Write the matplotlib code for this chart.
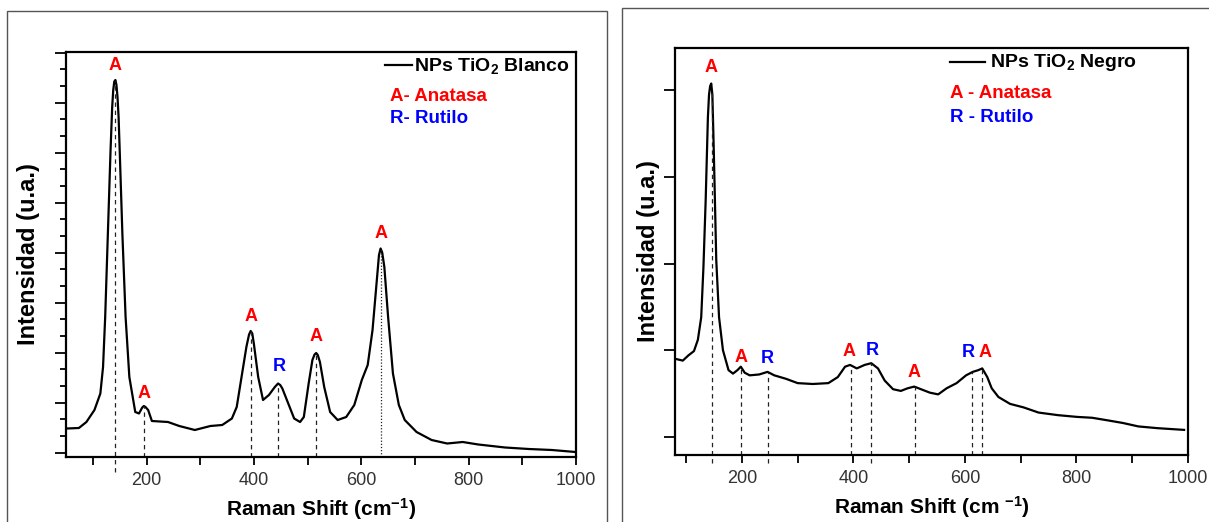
import matplotlib
matplotlib.use("Agg")
import matplotlib.pyplot as plt
import numpy as np
from matplotlib.patches import Rectangle
from matplotlib.lines import Line2D
from matplotlib.ticker import MultipleLocator, FixedLocator

plt.rcParams['font.family'] = ['Liberation Sans', 'DejaVu Sans']
plt.rcParams['mathtext.fontset'] = 'custom'
plt.rcParams['mathtext.rm'] = 'Liberation Sans'
plt.rcParams['mathtext.bf'] = 'Liberation Sans:bold'
plt.rcParams['mathtext.it'] = 'Liberation Sans:italic'

# ---------------- data: white TiO2 (Blanco) ----------------
blanco_shift = [52, 74, 88, 103, 114, 119, 123, 128, 133, 136, 138, 140, 142, 144, 146, 148, 150,
                155, 161, 168, 179, 186, 192, 195, 198, 203, 210, 240, 261, 290, 319, 341, 359,
                368, 377, 386, 391, 394, 397, 400, 408, 417, 428, 439, 445, 449, 453, 464,
                475, 486, 493, 502, 509, 513, 516, 519, 523, 531, 542, 556, 572, 587, 601,
                612, 621, 629, 633, 636, 639, 643, 650, 659, 670, 681, 703, 731, 760, 789,
                818, 868, 912, 955, 999]
blanco_int = [0.48, 0.49, 0.61, 0.85, 1.18, 1.71, 2.71, 4.38, 6.05, 6.9, 7.25, 7.42, 7.45, 7.35,
              7.1, 6.7, 6.05, 4.38, 2.71, 1.51, 0.81, 0.78, 0.90, 0.93, 0.91, 0.85, 0.63, 0.61,
              0.53, 0.45, 0.53, 0.55, 0.68, 0.91, 1.51, 2.11, 2.36, 2.43, 2.38, 2.17, 1.51,
              1.05, 1.15, 1.31, 1.38, 1.35, 1.28, 0.98, 0.68, 0.61, 0.71, 1.38, 1.85, 1.96,
              1.99, 1.95, 1.81, 1.31, 0.81, 0.65, 0.71, 0.95, 1.45, 1.75, 2.45, 3.45, 3.95,
              4.08, 4.0, 3.71, 2.71, 1.58, 0.95, 0.65, 0.41, 0.25, 0.18, 0.21, 0.16, 0.10,
              0.07, 0.05, 0.01]
blanco_peaks = [141, 195, 394, 445, 516, 636]
blanco_labels = ["A", "A", "A", "R", "A", "A"]
blanco_label_x = [141, 195, 394, 448, 516, 637]
blanco_label_y = [7.74, 1.18, 2.72, 1.72, 2.32, 4.38]

# ---------------- data: black TiO2 (Negro) ----------------
negro_shift = [81, 94, 104, 114, 121, 127, 131, 135, 139, 141, 143, 145, 147, 149, 151, 154, 159,
               166, 176, 184, 192, 198, 205, 214, 231, 246, 258, 279, 300, 327, 355, 372, 385,
               394, 406, 420, 432, 444, 456, 471, 485, 497, 509, 521, 537, 552, 567, 585,
               602, 614, 624, 631, 640, 648, 660, 681, 705, 732, 767, 801, 828, 856, 883,
               911, 945, 993]
negro_int = [0.90, 0.88, 0.94, 0.99, 1.12, 1.38, 1.96, 2.73, 3.69, 3.95, 4.05, 4.08, 3.95, 3.45,
             2.9, 2.04, 1.38, 1.00, 0.77, 0.73, 0.77, 0.81, 0.74, 0.71, 0.72, 0.75, 0.71, 0.67,
             0.62, 0.61, 0.62, 0.69, 0.81, 0.83, 0.79, 0.83, 0.85, 0.79, 0.65, 0.55, 0.53,
             0.56, 0.58, 0.55, 0.51, 0.49, 0.56, 0.62, 0.71, 0.75, 0.77, 0.79, 0.69, 0.56,
             0.46, 0.38, 0.34, 0.28, 0.25, 0.23, 0.22, 0.19, 0.16, 0.12, 0.10, 0.08]
negro_peaks = [146, 198, 246, 396, 432, 510, 612, 631]
negro_labels = ["A", "A", "R", "A", "R", "A", "R", "A"]
negro_label_x = [144, 198, 245, 392, 433, 508, 606, 636]
negro_label_y = [4.27, 0.92, 0.91, 0.98, 1.00, 0.74, 0.97, 0.97]

x_major = [200, 400, 600, 800, 1000]

W, H = 1209, 522
fig = plt.figure(figsize=(W / 100, H / 100), dpi=100)

def px_rect(x0, y0, x1, y1):
    return [x0 / W, 1 - y1 / H, (x1 - x0) / W, (y1 - y0) / H]

# outer frames
fig.add_artist(Rectangle((7 / W, -0.05), (607 - 7) / W, 1.05 - 11 / H,
                         transform=fig.transFigure, fill=False, ec='#555555', lw=1.0))
fig.add_artist(Rectangle((622 / W, -0.05), 0.6, 1.05 - 8 / H,
                         transform=fig.transFigure, fill=False, ec='#555555', lw=1.0))

colors = {"A": "#ff0000", "R": "#0000ff"}

def setup(ax, xlim, ylim, ypad):
    ax.set_xlim(*xlim)
    ax.set_ylim(*ylim)
    for s in ax.spines.values():
        s.set_linewidth(1.6)
    ax.xaxis.set_major_locator(FixedLocator(x_major))
    ax.xaxis.set_minor_locator(MultipleLocator(100))
    ax.tick_params(axis='x', which='both', direction='out', length=6, width=1.3,
                   labelsize=13, labelcolor='#333333', pad=5)
    ax.tick_params(axis='y', which='major', direction='out', length=8, width=1.3)
    ax.tick_params(axis='y', which='minor', direction='out', length=4, width=1.3)
    ax.tick_params(axis='y', which='both', labelleft=False)
    ax.set_ylabel("Intensidad (u.a.)", fontsize=17, fontweight='bold', labelpad=ypad)

# ---------------- left panel ----------------
ax1 = fig.add_axes(px_rect(66, 52, 576, 457))
setup(ax1, (50, 1000), (-0.09, 8.01), 11)
ax1.yaxis.set_major_locator(MultipleLocator(1))
ax1.yaxis.set_minor_locator(MultipleLocator(1 / 3))
ax1.plot(blanco_shift, blanco_int, color='black', lw=1.6)
for i, (p, lab, lx, ly) in enumerate(zip(blanco_peaks, blanco_labels, blanco_label_x, blanco_label_y)):
    top = np.interp(p, blanco_shift, blanco_int)
    bottom = -0.38 if i == 0 else -0.09
    ls = (0, (1, 1.5)) if p == 636 else (0, (3.5, 3))
    ax1.plot([p, p], [bottom, top], color='#222222', lw=0.9, ls=ls, clip_on=False)
    ax1.text(lx, ly, lab, color=colors[lab], fontsize=13, fontweight='bold',
             ha='center', va='center')
ax1.set_xlabel(r"Raman Shift (cm$^{\mathbf{-1}}$)", fontsize=15, fontweight='bold', labelpad=5)

ax1.add_line(Line2D([0.625, 0.678], [0.968, 0.968], transform=ax1.transAxes, color='black', lw=1.6))
ax1.text(0.682, 0.966, r"NPs TiO$_\mathbf{2}$ Blanco", transform=ax1.transAxes,
         fontsize=14, fontweight='bold', ha='left', va='center')
ax1.text(0.635, 0.889, "A- Anatasa", transform=ax1.transAxes, color='#ff0000',
         fontsize=13.5, fontweight='bold', ha='left', va='center')
ax1.text(0.635, 0.837, "R- Rutilo", transform=ax1.transAxes, color='#0000ff',
         fontsize=13.5, fontweight='bold', ha='left', va='center')

# ---------------- right panel ----------------
ax2 = fig.add_axes(px_rect(675, 48, 1188, 455))
setup(ax2, (80, 1000), (-0.21, 4.49), 2.5)
ax2.yaxis.set_major_locator(MultipleLocator(1))
ax2.yaxis.set_minor_locator(FixedLocator([]))
ax2.plot(negro_shift, negro_int, color='black', lw=1.6)
for p, lab, lx, ly in zip(negro_peaks, negro_labels, negro_label_x, negro_label_y):
    top = np.interp(p, negro_shift, negro_int)
    bottom = -0.30 if p in (146, 246, 432) else -0.21
    ax2.plot([p, p], [bottom, top], color='#222222', lw=0.9, ls=(0, (3.5, 3)), clip_on=False)
    ax2.text(lx, ly, lab, color=colors[lab], fontsize=13, fontweight='bold',
             ha='center', va='center')
ax2.set_xlabel(r"Raman Shift (cm $^{\mathbf{-1}}$)", fontsize=15, fontweight='bold', labelpad=5)

ax2.add_line(Line2D([0.536, 0.604], [0.966, 0.966], transform=ax2.transAxes, color='black', lw=1.6))
ax2.text(0.614, 0.964, r"NPs TiO$_\mathbf{2}$ Negro", transform=ax2.transAxes,
         fontsize=14, fontweight='bold', ha='left', va='center')
ax2.text(0.536, 0.889, "A - Anatasa", transform=ax2.transAxes, color='#ff0000',
         fontsize=13.5, fontweight='bold', ha='left', va='center')
ax2.text(0.536, 0.830, "R - Rutilo", transform=ax2.transAxes, color='#0000ff',
         fontsize=13.5, fontweight='bold', ha='left', va='center')

fig.savefig("out.png", dpi=100)
